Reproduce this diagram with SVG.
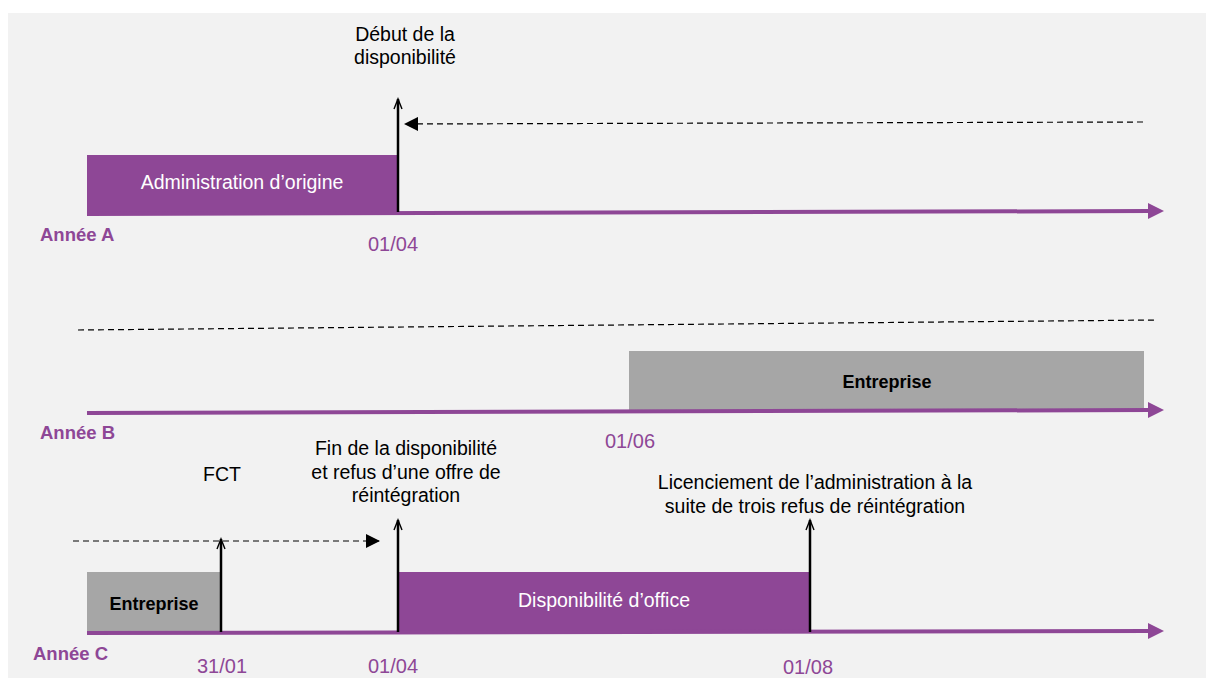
<svg xmlns="http://www.w3.org/2000/svg" width="1206" height="678" viewBox="0 0 1206 678">
<style>
.t{font-family:"Liberation Sans",Arial,sans-serif;font-size:19.5px;fill:#000;text-anchor:middle}
.w{fill:#fff}
.b{font-weight:bold;font-size:18px}
.lbl{font-family:"Liberation Sans",Arial,sans-serif;font-size:18.5px;font-weight:bold;fill:#8e4796}
.date{font-family:"Liberation Sans",Arial,sans-serif;font-size:20px;fill:#8e4796;text-anchor:middle}
.tl{stroke:#8e4796;stroke-width:4;fill:none}
.dash{stroke:#000;stroke-width:1.2;stroke-dasharray:6,4;fill:none}
.up{stroke:#000;stroke-width:2.5;fill:none}
</style>
<defs>
<marker id="pa" markerWidth="16" markerHeight="16" refX="2" refY="8" orient="auto" markerUnits="userSpaceOnUse" viewBox="0 0 16 16" overflow="visible">
<path d="M0,0 L16,8 L0,16 Z" fill="#8e4796"/>
</marker>
<marker id="ua" markerWidth="10" markerHeight="10" refX="10" refY="5" orient="auto" markerUnits="userSpaceOnUse" viewBox="0 0 10 10" overflow="visible">
<path d="M0,1 L10,5 L0,9" fill="none" stroke="#000" stroke-width="1.4"/>
</marker>
<marker id="da" markerWidth="14" markerHeight="14" refX="14" refY="7" orient="auto" markerUnits="userSpaceOnUse" viewBox="0 0 14 14">
<path d="M0,0 L14,7 L0,14 Z" fill="#000"/>
</marker>
</defs>
<rect x="0" y="0" width="1206" height="678" fill="#fff"/>
<rect x="8" y="13" width="1198" height="665" fill="#f2f2f2"/>

<g id="box-admin">
<rect x="87" y="155" width="311" height="60" fill="#8e4796"/>
<text class="t w" x="242" y="189">Administration d’origine</text>
</g>
<g id="box-entreprise-b">
<rect x="629" y="351" width="515" height="60" fill="#a6a6a6"/>
<text class="t b" x="887" y="388">Entreprise</text>
</g>
<g id="box-entreprise-c">
<rect x="87" y="572" width="134" height="61" fill="#a6a6a6"/>
<text class="t b" x="154" y="610">Entreprise</text>
</g>
<g id="box-dispo-office">
<rect x="398" y="572" width="413" height="61" fill="#8e4796"/>
<text class="t w" x="604" y="607">Disponibilité d’office</text>
</g>

<g id="labels">
<text class="t" x="405" y="41">Début de la</text>
<text class="t" x="405" y="64">disponibilité</text>
<text class="t" x="222" y="481">FCT</text>
<text class="t" x="406" y="455">Fin de la disponibilité</text>
<text class="t" x="406" y="479">et refus d’une offre de</text>
<text class="t" x="406" y="502">réintégration</text>
<text class="t" x="815" y="489">Licenciement de l’administration à la</text>
<text class="t" x="815" y="513">suite de trois refus de réintégration</text>
<text class="lbl" x="40" y="241">Année A</text>
<text class="lbl" x="40" y="439">Année B</text>
<text class="lbl" x="33" y="660">Année C</text>
<text class="date" x="393" y="251">01/04</text>
<text class="date" x="630" y="448">01/06</text>
<text class="date" x="222" y="673">31/01</text>
<text class="date" x="393" y="673">01/04</text>
<text class="date" x="808" y="674">01/08</text>
</g>

<g id="connectors">
<line class="tl" x1="87" y1="214" x2="1150" y2="211" marker-end="url(#pa)"/>
<line class="tl" x1="87" y1="413" x2="1150" y2="410" marker-end="url(#pa)"/>
<line class="tl" x1="87" y1="633" x2="1150" y2="631" marker-end="url(#pa)"/>
<line class="up" x1="398" y1="212" x2="398" y2="99" marker-end="url(#ua)"/>
<line class="dash" x1="1143" y1="122" x2="404" y2="124" marker-end="url(#da)"/>
<line class="dash" x1="78" y1="330" x2="1157" y2="320"/>
<line class="dash" x1="73" y1="541" x2="380" y2="541" marker-end="url(#da)"/>
<line class="up" x1="221" y1="632" x2="221" y2="539" marker-end="url(#ua)"/>
<line class="up" x1="398" y1="632" x2="398" y2="520" marker-end="url(#ua)"/>
<line class="up" x1="810" y1="632" x2="810" y2="520" marker-end="url(#ua)"/>
</g>
</svg>
